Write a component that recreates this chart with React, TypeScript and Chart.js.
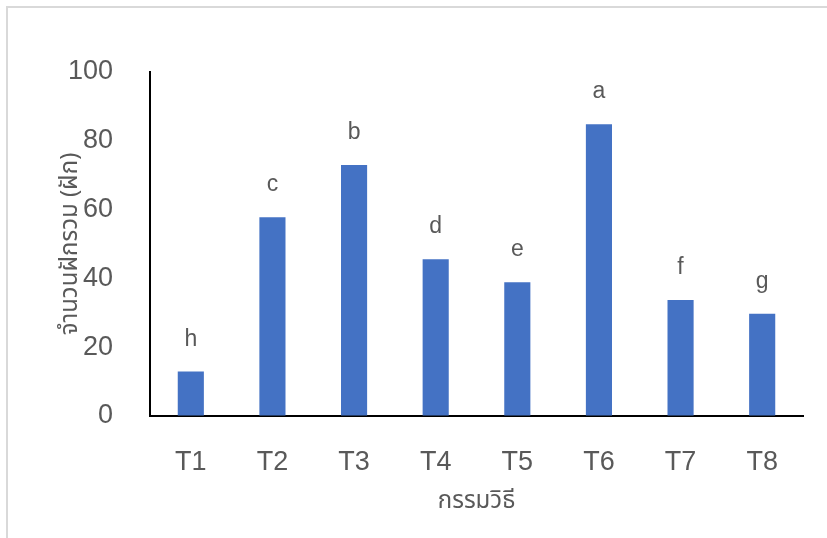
import React, { useEffect, useRef } from "react";
import { Chart, registerables } from "chart.js";

Chart.register(...registerables);

const categories = ["T1", "T2", "T3", "T4", "T5", "T6", "T7", "T8"];
const values = [12.9, 57.8, 73.0, 45.6, 38.9, 84.8, 33.7, 29.7];
const letters = ["h", "c", "b", "d", "e", "a", "f", "g"];
const yMin = 0;
const yMax = 100;
const yStep = 20;
const yTitle = "จำนวนฝักรวม (ฝัก)";
const xTitle = "กรรมวิธี";

const TEXT = "#595959";
const NUM_FONT = "'Liberation Sans Narrow', 'Liberation Sans', sans-serif";
const THAI_FONT = "'Noto Sans Thai', 'Noto Sans', 'DejaVu Sans', sans-serif";

const letterPlugin = {
  id: "letters",
  afterDatasetsDraw(chart: any) {
    const ctx = chart.ctx;
    const meta = chart.getDatasetMeta(0);
    ctx.save();
    ctx.fillStyle = TEXT;
    ctx.font = `23px ${NUM_FONT}`;
    ctx.textAlign = "center";
    ctx.textBaseline = "alphabetic";
    meta.data.forEach((el: any, i: number) => {
      ctx.fillText(letters[i], el.x, el.y - 26);
    });
    ctx.restore();
  },
};

const framePlugin = {
  id: "frame",
  beforeDraw(chart: any) {
    const ctx = chart.ctx;
    ctx.save();
    ctx.fillStyle = "#fff";
    ctx.fillRect(0, 0, chart.width, chart.height);
    ctx.strokeStyle = "#d9d9d9";
    ctx.lineWidth = 2;
    ctx.beginPath();
    ctx.moveTo(7, chart.height + 2);
    ctx.lineTo(7, 7);
    ctx.lineTo(chart.width + 2, 7);
    ctx.stroke();
    ctx.restore();
  },
};

export default function App() {
  const ref = useRef<HTMLCanvasElement | null>(null);

  useEffect(() => {
    if (!ref.current) return;
    const chart = new Chart(ref.current, {
      type: "bar",
      data: {
        labels: categories,
        datasets: [
          {
            data: values,
            backgroundColor: "#4472C4",
            borderWidth: 0,
            barPercentage: 0.32,
            categoryPercentage: 1,
          },
        ],
      },
      options: {
        animation: false,
        responsive: false,
        maintainAspectRatio: false,
        layout: { padding: { top: 72, right: 24, bottom: 0, left: 0 } },
        plugins: {
          legend: { display: false },
          tooltip: { enabled: false },
          title: { display: false },
        },
        scales: {
          x: {
            afterFit: (s: any) => {
              s.height = 122;
            },
            grid: { drawOnChartArea: false, drawTicks: false },
            border: { display: true, color: "#000", width: 2 },
            ticks: {
              color: TEXT,
              font: { family: NUM_FONT, size: 27 },
              padding: 30,
            },
            title: {
              display: true,
              text: xTitle,
              color: TEXT,
              font: { family: THAI_FONT, size: 24 },
              padding: { top: 0, bottom: 20 },
            },
          },
          y: {
            min: yMin,
            max: yMax,
            afterFit: (s: any) => {
              s.width = 150;
            },
            grid: { drawOnChartArea: false, drawTicks: false },
            border: { display: true, color: "#000", width: 2 },
            ticks: {
              stepSize: yStep,
              color: TEXT,
              font: { family: NUM_FONT, size: 27 },
              padding: 37,
            },
            title: {
              display: true,
              text: yTitle,
              color: TEXT,
              font: { family: THAI_FONT, size: 24 },
              padding: { top: 58, bottom: 0 },
            },
          },
        },
      },
      plugins: [framePlugin, letterPlugin],
    });
    return () => chart.destroy();
  }, []);

  return (
    <div style={{ position: "fixed", left: 0, top: 0, width: 827, height: 538 }}>
      <canvas ref={ref} width={827} height={538} />
    </div>
  );
}
